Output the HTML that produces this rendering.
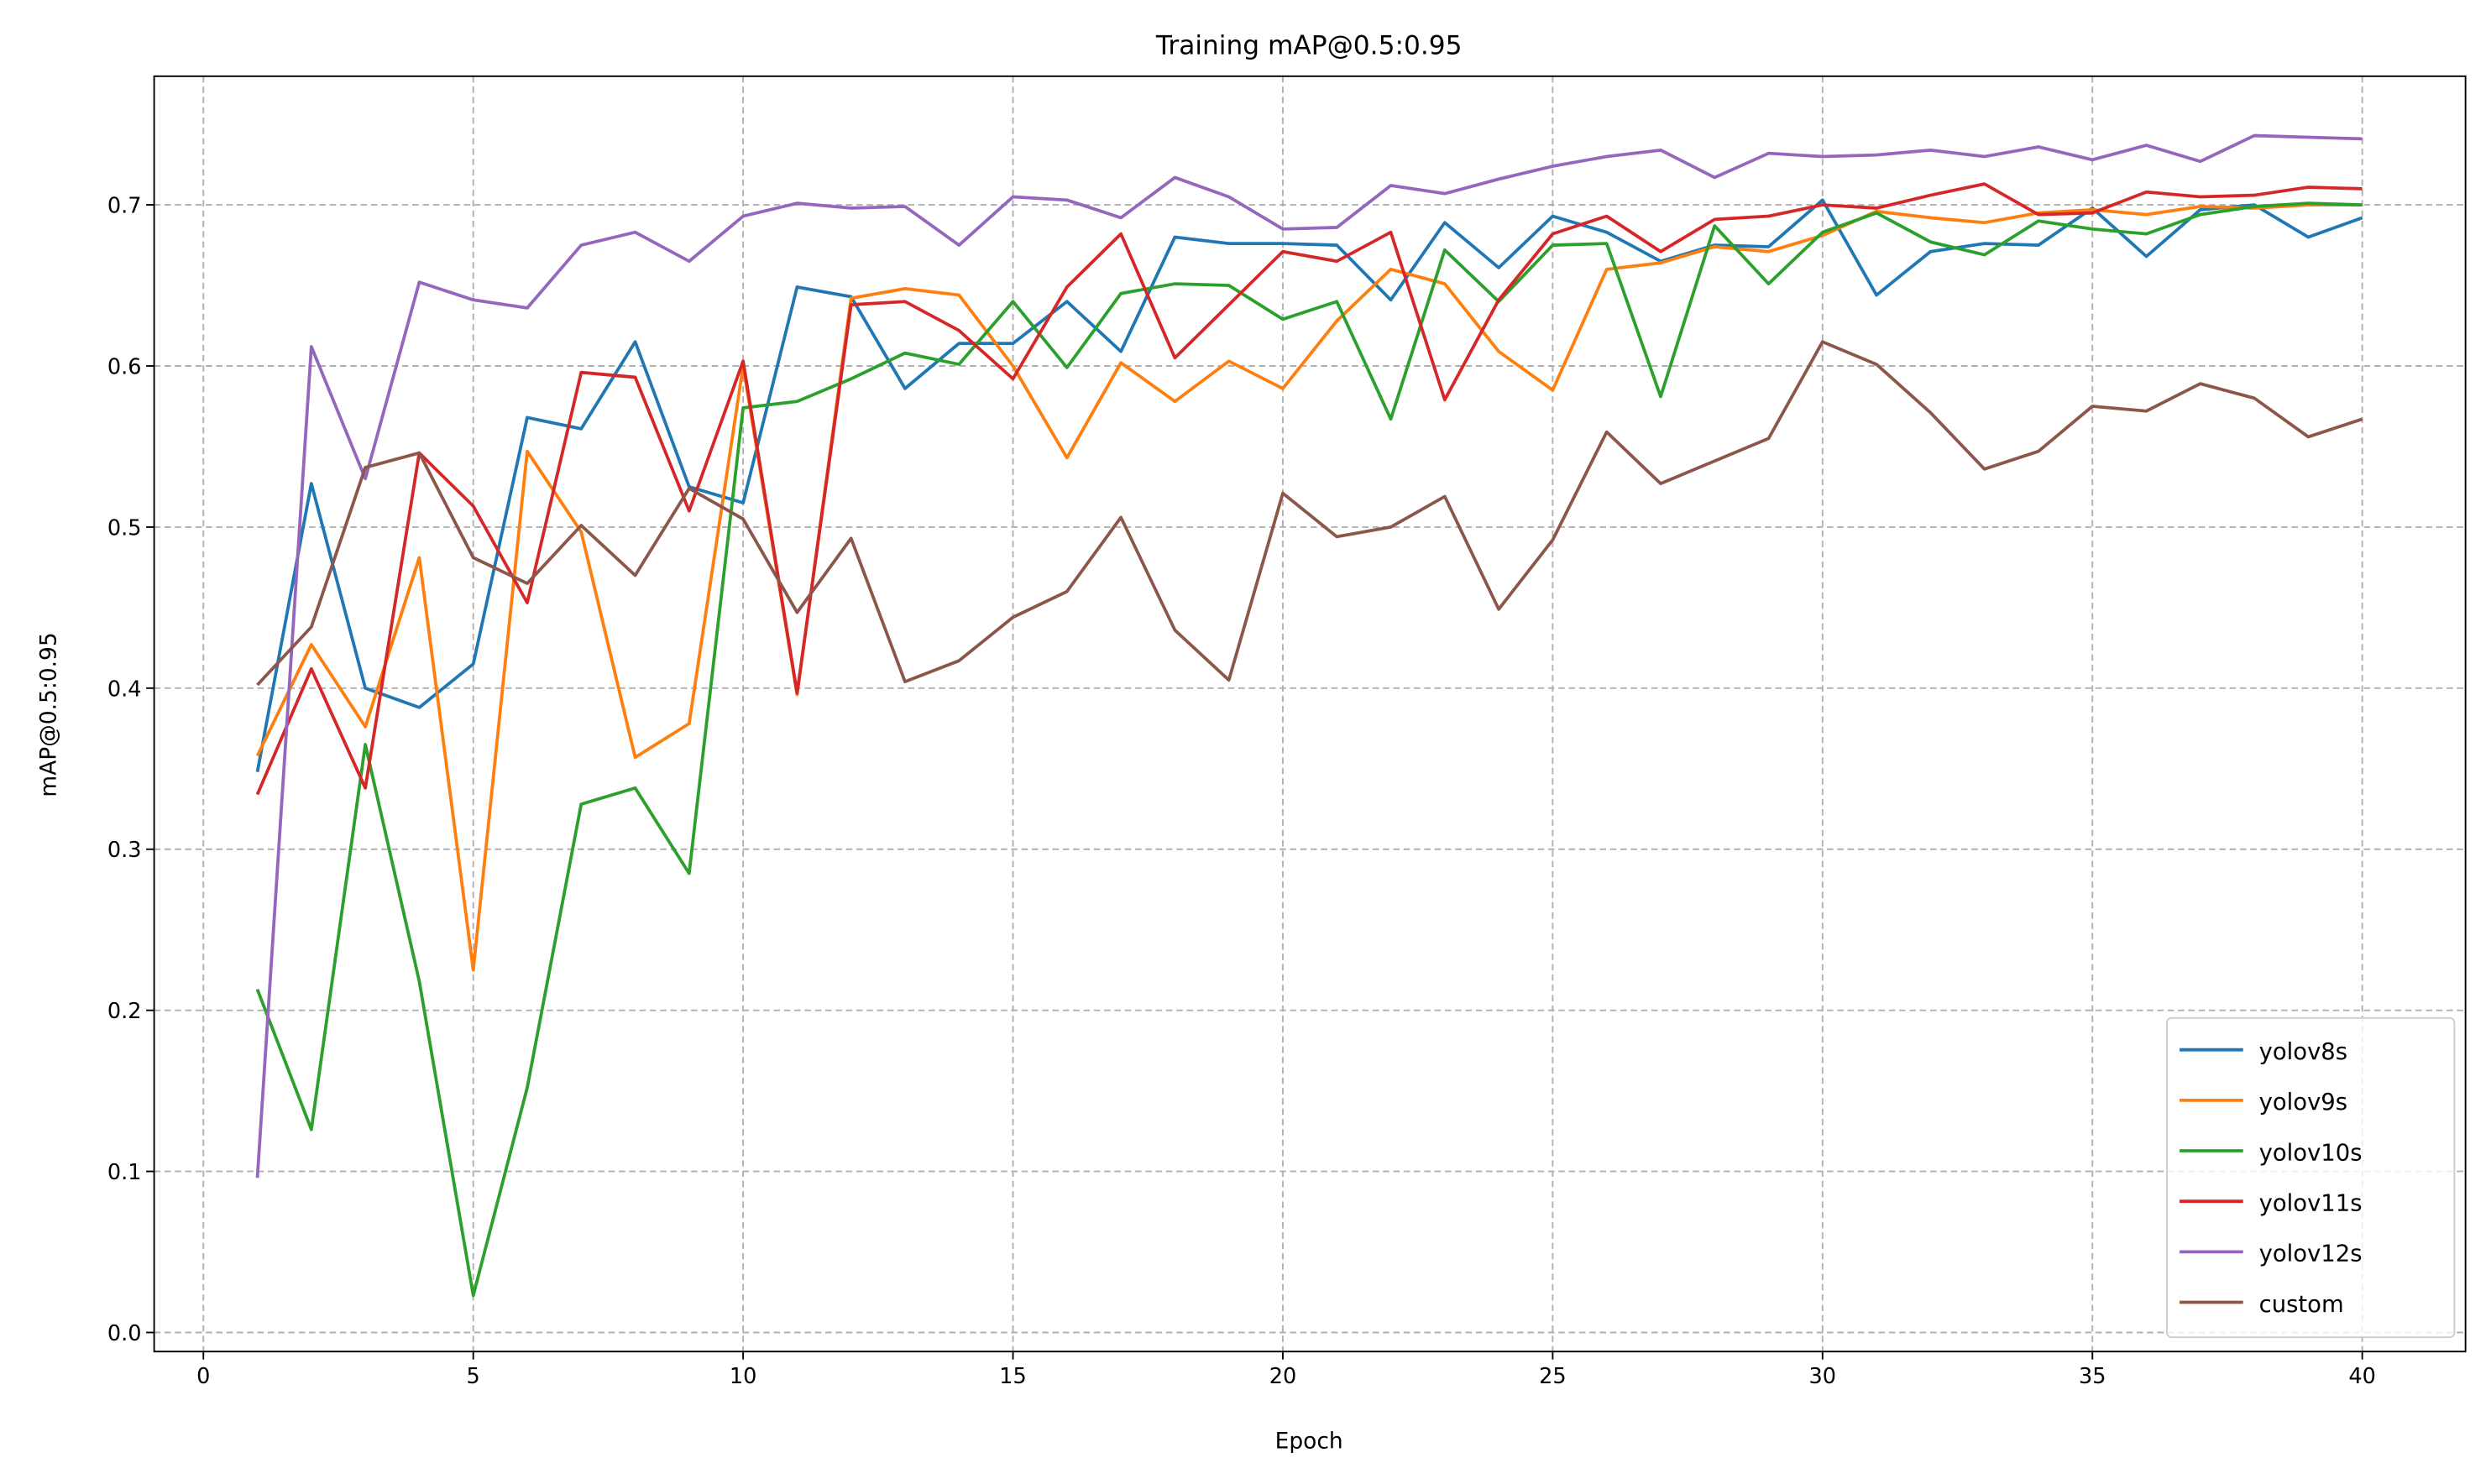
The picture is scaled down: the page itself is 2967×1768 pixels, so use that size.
<!DOCTYPE html>
<html><head><meta charset="utf-8"><style>
html,body{margin:0;padding:0;background:#fff}
svg{display:block;font-family:"DejaVu Sans","Liberation Sans",sans-serif}
</style></head><body>
<svg id="chart" width="2967" height="1768" viewBox="0 0 1568 934.4" xmlns="http://www.w3.org/2000/svg">
<rect x="0" y="0" width="1568" height="934.4" fill="#fff"/>
<text x="824" y="34" font-size="16.5" text-anchor="middle" fill="#000">Training mAP@0.5:0.95</text>
<g id="grid"></g>
<g id="series"></g>
<rect x="97" y="48" width="1455" height="803" fill="none" stroke="#000" stroke-width="1"/>
<g id="axes"></g>
<text x="824" y="912" font-size="14" text-anchor="middle">Epoch</text>
<text x="35" y="450" font-size="14" text-anchor="middle" transform="rotate(-90 35 450)">mAP@0.5:0.95</text>
<g id="legend"></g>
</svg>
<script>
const xTicks=[0,5,10,15,20,25,30,35,40];
const yTicks=[0.0,0.1,0.2,0.3,0.4,0.5,0.6,0.7];
const yTickLabels=["0.0","0.1","0.2","0.3","0.4","0.5","0.6","0.7"];
const seriesNames=["yolov8s","yolov9s","yolov10s","yolov11s","yolov12s","custom"];
const seriesColors=["#1f77b4","#ff7f0e","#2ca02c","#d62728","#9467bd","#8c564b"];
const yolov8s=[0.348,0.527,0.400,0.388,0.415,0.568,0.561,0.615,0.525,0.515,0.649,0.643,0.586,0.614,0.614,0.640,0.609,0.680,0.676,0.676,0.675,0.641,0.689,0.661,0.693,0.683,0.665,0.675,0.674,0.703,0.644,0.671,0.676,0.675,0.698,0.668,0.697,0.700,0.680,0.692];
const yolov9s=[0.358,0.427,0.376,0.481,0.225,0.547,0.497,0.357,0.378,0.600,0.396,0.642,0.648,0.644,0.600,0.543,0.602,0.578,0.603,0.586,0.628,0.660,0.651,0.609,0.585,0.660,0.664,0.674,0.671,0.681,0.696,0.692,0.689,0.695,0.697,0.694,0.699,0.698,0.700,0.700];
const yolov10s=[0.213,0.126,0.365,0.218,0.023,0.152,0.328,0.338,0.285,0.574,0.578,0.592,0.608,0.601,0.640,0.599,0.645,0.651,0.650,0.629,0.640,0.567,0.672,0.640,0.675,0.676,0.581,0.687,0.651,0.683,0.695,0.677,0.669,0.690,0.685,0.682,0.694,0.699,0.701,0.700];
const yolov11s=[0.334,0.412,0.338,0.546,0.513,0.453,0.596,0.593,0.510,0.603,0.397,0.638,0.640,0.622,0.592,0.649,0.682,0.605,0.638,0.671,0.665,0.683,0.579,0.641,0.682,0.693,0.671,0.691,0.693,0.700,0.698,0.706,0.713,0.694,0.695,0.708,0.705,0.706,0.711,0.710];
const yolov12s=[0.096,0.612,0.530,0.652,0.641,0.636,0.675,0.683,0.665,0.693,0.701,0.698,0.699,0.675,0.705,0.703,0.692,0.717,0.705,0.685,0.686,0.712,0.707,0.716,0.724,0.730,0.734,0.717,0.732,0.730,0.731,0.734,0.730,0.736,0.728,0.737,0.727,0.743,0.742,0.741];
const custom=[0.402,0.438,0.537,0.546,0.481,0.465,0.501,0.470,0.524,0.505,0.447,0.493,0.404,0.417,0.444,0.460,0.506,0.436,0.405,0.521,0.494,0.500,0.519,0.449,0.492,0.559,0.527,0.541,0.555,0.615,0.601,0.571,0.536,0.547,0.575,0.572,0.589,0.580,0.556,0.567];
const allSeries=[yolov8s,yolov9s,yolov10s,yolov11s,yolov12s,custom];

const NS="http://www.w3.org/2000/svg";
const L=97,R=1552,T=48,B=851;
const xScale=v=>128+(v-0)*(1487-128)/40;
const yScale=v=>839-(v-0)*(839-129)/0.7;
function mk(tag,attrs,parent){const e=document.createElementNS(NS,tag);for(const k in attrs)e.setAttribute(k,attrs[k]);parent.appendChild(e);return e;}
const grid=document.getElementById('grid'),axes=document.getElementById('axes'),ser=document.getElementById('series'),leg=document.getElementById('legend');
xTicks.forEach(t=>{const x=xScale(t);
 const g=mk('line',{x1:x,x2:x,y1:T,y2:B,stroke:'#b0b0b0','stroke-width':1,'stroke-dasharray':'4,2.5'},grid);
 
 
 const tk=mk('line',{x1:x,x2:x,y1:B,y2:B+5,stroke:'#000','stroke-width':1},axes);
 
 
 const tx=mk('text',{x:x,y:B+20,'font-size':13.5,'text-anchor':'middle'},axes);tx.textContent=t;
 
 
});
yTicks.forEach((t,i)=>{const y=yScale(t);
 const g=mk('line',{x1:L,x2:R,y1:y,y2:y,stroke:'#b0b0b0','stroke-width':1,'stroke-dasharray':'4,2.5'},grid);
 
 
 const tk=mk('line',{x1:L-5,x2:L,y1:y,y2:y,stroke:'#000','stroke-width':1},axes);
 
 
 const tx=mk('text',{x:L-8,y:y+5,'font-size':13.5,'text-anchor':'end'},axes);tx.textContent=yTickLabels[i];
 
 
});
allSeries.forEach((d,si)=>{
 const pts=d.map((v,i)=>xScale(i+1).toFixed(2)+','+yScale(v).toFixed(2)).join(' ');
 const p=mk('polyline',{points:pts,fill:'none',stroke:seriesColors[si],'stroke-width':2,'stroke-linejoin':'round'},ser);
 
 
});
const lb=mk('rect',{x:1364,y:641,width:181,height:201,rx:3,fill:'#fff','fill-opacity':0.8,stroke:'#ccc','stroke-width':1},leg);


seriesNames.forEach((n,i)=>{const y=661+i*31.8;
 const g=mk('g',{},leg);
 
 
 mk('line',{x1:1372,x2:1412,y1:y,y2:y,stroke:seriesColors[i],'stroke-width':2},g);
 const t=mk('text',{x:1422,y:y+6,'font-size':14.5},g);t.textContent=n;
});
</script>
</body></html>
